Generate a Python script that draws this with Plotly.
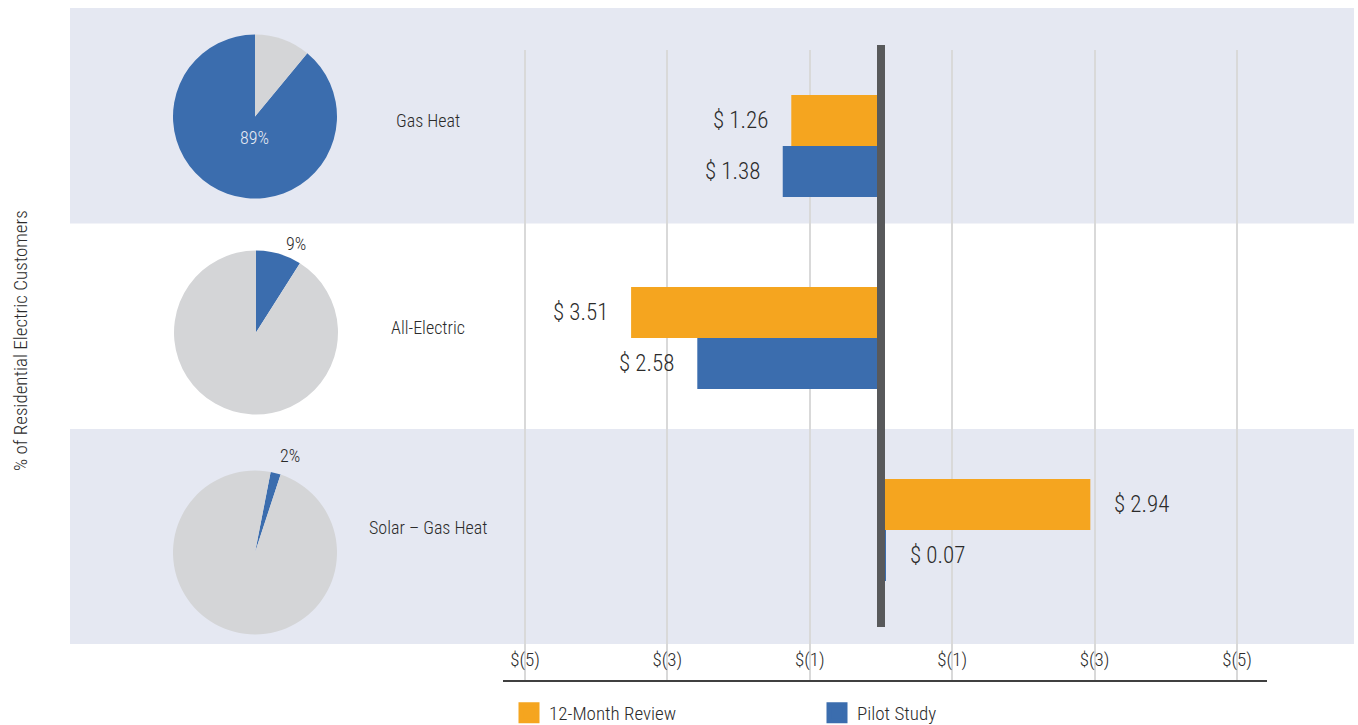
import plotly.graph_objects as go

# ---------------- data ----------------
categories = ["Gas Heat", "All-Electric", "Solar \u2013 Gas Heat"]
share_pct = [89, 9, 2]                       # % of residential electric customers
review_12m = [-1.26, -3.51, 2.94]            # 12-Month Review
pilot_study = [-1.38, -2.58, 0.07]           # Pilot Study
tick_vals = [-5, -3, -1, 1, 3, 5]
tick_text = ["$(5)", "$(3)", "$(1)", "$(1)", "$(3)", "$(5)"]
series_names = ["12-Month Review", "Pilot Study"]

# ---------------- style ----------------
W, H = 1358, 725
ORANGE = "#F5A51F"
BLUE = "#3B6DAE"
GRAY = "#D4D5D7"
BAND = "#E5E8F2"
TXT = "#2B2B2B"
FONT = "Liberation Sans Narrow, Arial Narrow, Roboto Condensed, DejaVu Sans Condensed, sans-serif"
WEIGHT = 300

def px(x):
    return x / W

def py(y):
    return 1 - y / H

fig = go.Figure()

# bars
BARGAP = 0.46875
for name, vals, col in [(series_names[0], review_12m, ORANGE), (series_names[1], pilot_study, BLUE)]:
    fig.add_trace(go.Bar(
        x=vals, y=list(range(len(categories))), orientation="h",
        marker=dict(color=col, line=dict(width=0)), name=name, showlegend=False,
        hoverinfo="skip",
    ))

# legend entries
for name, col in [(series_names[0], ORANGE), (series_names[1], BLUE)]:
    fig.add_trace(go.Scatter(
        x=[None], y=[None], mode="markers", name=name,
        marker=dict(symbol="square", size=16, color=col, line=dict(color=col, width=5)),
        showlegend=True,
    ))

# pies
pie_centers = [(255, 116.5), (256, 332.5), (255, 552.5)]
pie_rotation = [360 * (100 - share_pct[0]) / 100, 0, 11]
R = 82
for i, s in enumerate(share_pct):
    cx, cy = pie_centers[i]
    fig.add_trace(go.Pie(
        values=[s, 100 - s], labels=["share", "other"],
        marker=dict(colors=[BLUE, GRAY], line=dict(width=0)),
        sort=False, direction="clockwise", rotation=pie_rotation[i],
        textinfo="none", hoverinfo="skip", showlegend=False,
        domain=dict(x=[px(cx - R), px(cx + R)], y=[py(cy + R), py(cy - R)]),
    ))

shapes = []
# bands
for (y0, y1) in [(8, 223.5), (429, 644)]:
    shapes.append(dict(type="rect", xref="paper", yref="paper",
                       x0=px(70), x1=px(1354), y0=py(y1), y1=py(y0),
                       fillcolor=BAND, line=dict(width=0), layer="below"))
# zero line
shapes.append(dict(type="line", xref="x", yref="paper", x0=0, x1=0,
                   y0=py(627), y1=py(45), line=dict(color="#58595B", width=8), layer="above"))

annotations = []
# category labels
for cat, yy in zip(categories, [120, 327, 527]):
    annotations.append(dict(text=cat, x=px(428), y=py(yy), xref="paper", yref="paper",
                            showarrow=False, xanchor="center", yanchor="middle",
                            font=dict(size=18, color=TXT, family=FONT, weight=WEIGHT)))
# pie labels
pie_label_pos = [(254, 137, "#E8EBF4"), (296, 243, TXT), (290, 455, TXT)]
for s, (lx, ly, c) in zip(share_pct, pie_label_pos):
    annotations.append(dict(text=f"{s}%", x=px(lx), y=py(ly), xref="paper", yref="paper",
                            showarrow=False, xanchor="center", yanchor="middle",
                            font=dict(size=18, color=c, family=FONT, weight=WEIGHT)))
# bar value labels
half = (1 - BARGAP) / 4
for vals, off in [(review_12m, -half), (pilot_study, half)]:
    for i, v in enumerate(vals):
        annotations.append(dict(
            text=f"$ {abs(v):.2f}", x=v, y=i + off, xref="x", yref="y",
            showarrow=False, xanchor="right" if v < 0 else "left", yanchor="middle",
            xshift=-21 if v < 0 else 22,
            font=dict(size=23, color=TXT, family=FONT, weight=WEIGHT)))
# y title
annotations.append(dict(text="% of Residential Electric Customers", x=px(20), y=py(341),
                        xref="paper", yref="paper", showarrow=False, textangle=-90,
                        xanchor="center", yanchor="middle",
                        font=dict(size=19, color=TXT, family=FONT, weight=WEIGHT)))

x_left, x_right, x_zero, unit = 503, 1267, 881, 71.2
fig.update_layout(
    width=W, height=H,
    margin=dict(l=0, r=0, t=0, b=0, autoexpand=False),
    paper_bgcolor="white", plot_bgcolor="rgba(0,0,0,0)",
    barmode="group", bargap=BARGAP, bargroupgap=0,
    font=dict(family=FONT, color=TXT, weight=WEIGHT),
    xaxis=dict(
        domain=[px(x_left), px(x_right)],
        range=[(x_left - x_zero) / unit, (x_right - x_zero) / unit],
        tickvals=tick_vals, ticktext=tick_text,
        ticklabelposition="inside", ticks="inside", ticklen=11, tickcolor="rgba(0,0,0,0)",
        tickfont=dict(size=19, color=TXT, family=FONT, weight=WEIGHT),
        showgrid=True, gridcolor="#D9D9D9", gridwidth=1.5,
        zeroline=False, showline=True, linecolor="#404040", linewidth=1.5,
        fixedrange=True, automargin=False,
    ),
    yaxis=dict(
        domain=[py(680), py(50)],
        range=[2 + (680 - 530) / 192, (50 - 146) / 192],
        showgrid=False, zeroline=False, showticklabels=False, showline=False,
        fixedrange=True, automargin=False,
    ),
    shapes=shapes, annotations=annotations,
    legend=dict(orientation="h", x=px(509), xanchor="left", y=py(713), yanchor="middle",
                entrywidth=263, entrywidthmode="pixels",
                font=dict(size=19, color=TXT, family=FONT, weight=WEIGHT),
                bgcolor="rgba(0,0,0,0)"),
    showlegend=True,
)

fig.write_html("out.html", config={"displayModeBar": False},
               post_script="document.body.style.margin='0';")
